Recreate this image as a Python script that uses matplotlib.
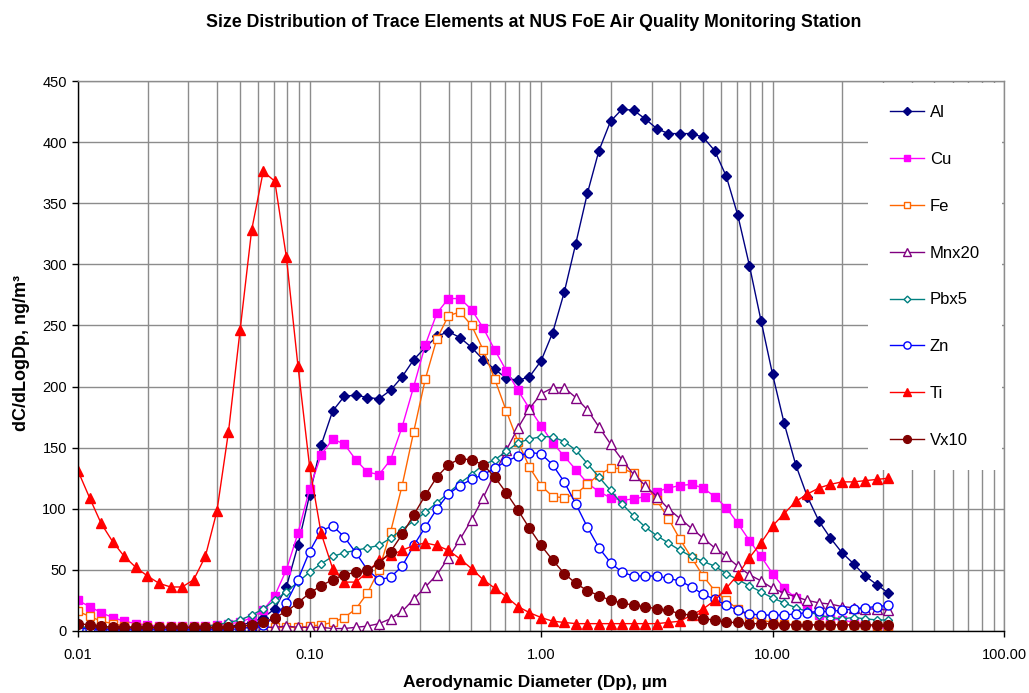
import numpy as np
import matplotlib
matplotlib.use("Agg")
import matplotlib.pyplot as plt

# ---- data ----------------------------------------------------------------
# 71 size bins, 20 per decade from 0.01 to ~31.6 um
dp = np.logspace(-2, 1.5, 71)

al = [3, 3, 3, 3, 3, 3, 3, 3, 3, 3, 3, 3, 3, 4, 5, 7, 11, 18, 36, 70,
      111, 152, 180, 192, 193, 191, 190, 197, 208, 222, 232, 241, 245, 240, 232, 222, 214, 207, 205, 208,
      221, 244, 277, 317, 358, 393, 417, 427, 426, 419, 411, 407, 407, 407, 404, 393, 372, 340, 299, 254,
      210, 170, 136, 110, 90, 76, 64, 55, 45, 38, 31]
cu = [25, 20, 15, 11, 8, 6, 5, 4, 4, 4, 4, 4, 5, 6, 7, 11, 17, 29, 50, 80,
      116, 144, 157, 153, 140, 130, 128, 140, 167, 200, 234, 260, 272, 272, 263, 248, 230, 213, 197, 182,
      168, 154, 143, 132, 121, 114, 109, 107, 108, 110, 114, 117, 119, 120, 117, 110, 101, 88, 74, 61,
      47, 35, 27, 18, 13, 10, 9, 7, 6, 3, 2]
fe = [16, 12, 8, 6, 4, 3, 3, 3, 3, 3, 3, 3, 3, 3, 3, 3, 3, 3, 3, 3,
      4, 5, 7, 11, 18, 31, 50, 81, 119, 163, 206, 239, 258, 261, 250, 230, 206, 180, 155, 134,
      119, 110, 109, 112, 120, 128, 133, 133, 129, 120, 107, 92, 75, 60, 45, 33, 25, 18, 12, 9,
      7, 6, 5, 5, 5, 5, 5, 5, 5, 4, 4]
mn20 = [2, 2, 2, 2, 2, 2, 2, 2, 2, 2, 2, 2, 2, 3, 3, 3, 3, 3, 4, 3,
        3, 3, 2, 2, 3, 4, 6, 10, 16, 26, 36, 46, 60, 75, 91, 109, 129, 148, 166, 182,
        194, 199, 199, 191, 181, 167, 153, 140, 128, 119, 110, 100, 92, 84, 76, 68, 61, 53, 46, 41,
        35, 31, 28, 25, 23, 22, 20, 19, 18, 18, 17]
pb5 = [3, 3, 3, 3, 3, 3, 3, 3, 3, 3, 3, 4, 5, 7, 9, 13, 18, 25, 32, 40,
       48, 55, 61, 64, 66, 68, 70, 76, 83, 90, 97, 105, 113, 121, 128, 136, 140, 147, 154, 157,
       159, 159, 155, 148, 137, 126, 115, 104, 94, 85, 78, 72, 66, 61, 57, 53, 47, 42, 37, 32,
       27, 23, 19, 16, 13, 11, 10, 11, 10, 9, 9]
zn = [2, 2, 1, 1, 1, 1, 1, 1, 1, 1, 1, 1, 1, 1, 2, 3, 5, 11, 23, 42,
      65, 82, 86, 77, 64, 50, 42, 44, 53, 70, 85, 100, 112, 119, 124, 128, 133, 139, 143, 146,
      145, 136, 122, 104, 85, 68, 56, 48, 45, 45, 45, 43, 41, 36, 30, 26, 21, 17, 14, 13,
      13, 13, 14, 15, 16, 16, 17, 18, 19, 20, 21]
ti = [131, 109, 88, 73, 61, 52, 45, 39, 36, 36, 42, 61, 98, 163, 246, 328, 376, 368, 306, 217,
      135, 80, 51, 40, 40, 48, 58, 62, 66, 70, 72, 70, 66, 59, 51, 42, 35, 28, 20, 15,
      11, 8, 7, 6, 6, 6, 6, 6, 6, 6, 6, 7, 8, 13, 18, 25, 35, 46, 60, 72,
      86, 96, 106, 112, 117, 120, 122, 122, 123, 124, 125]
v10 = [6, 5, 4, 3, 3, 3, 3, 3, 3, 3, 3, 3, 3, 3, 4, 5, 7, 11, 16, 23,
       31, 37, 42, 46, 48, 50, 55, 65, 79, 95, 111, 126, 136, 141, 140, 136, 126, 113, 99, 84,
       70, 58, 47, 39, 33, 29, 25, 23, 21, 20, 18, 17, 14, 13, 10, 9, 7, 7, 6, 6,
       6, 5, 5, 5, 5, 5, 5, 5, 5, 5, 5]

labels = ["Al", "Cu", "Fe", "Mnx20", "Pbx5", "Zn", "Ti", "Vx10"]
xticks = [0.01, 0.1, 1, 10, 100]
xticklabels = ["0.01", "0.10", "1.00", "10.00", "100.00"]

# ---- style ---------------------------------------------------------------
plt.rcParams.update({
    "font.family": ["Liberation Sans", "DejaVu Sans"],
    "font.size": 10,
})
GRID = "#8c8c8c"

# (colour, marker, size, filled)
styles = [
    ("#000080", "D", 5.0, True),
    ("#ff00ff", "s", 6.0, True),
    ("#ff6600", "s", 6.0, False),
    ("#800080", "^", 6.5, False),
    ("#008080", "D", 4.3, False),
    ("#0000ff", "o", 6.5, False),
    ("#ff0000", "^", 7.0, True),
    ("#800000", "o", 7.0, True),
]
series = [al, cu, fe, mn20, pb5, zn, ti, v10]

fig = plt.figure(figsize=(10.29, 6.93), dpi=100)
ax = fig.add_axes([0.0758, 0.0895, 0.9000, 0.7936])

for vals, lab, (col, mk, ms, filled) in zip(series, labels, styles):
    ax.plot(dp, vals, color=col, lw=1.0, marker=mk, ms=ms,
            mfc=col if filled else "white", mec=col, mew=1.0, label=lab)

ax.set_xscale("log")
ax.set_xlim(0.01, 100)
ax.set_ylim(0, 450)
ax.set_yticks(np.arange(0, 451, 50))
ax.set_xticks(xticks)
ax.set_xticklabels(xticklabels)
ax.xaxis.set_minor_locator(matplotlib.ticker.LogLocator(base=10, subs=np.arange(2, 10)))
ax.xaxis.set_minor_formatter(matplotlib.ticker.NullFormatter())

ax.grid(True, which="major", color=GRID, lw=1.0)
ax.grid(True, which="minor", axis="x", color=GRID, lw=1.0)
ax.set_axisbelow(True)

ax.tick_params(axis="x", which="major", length=4, width=1, pad=8, labelsize=10.5)
ax.tick_params(axis="x", which="minor", length=0)
ax.tick_params(axis="y", length=4, width=1, pad=4, labelsize=10.5)
for side in ("left", "bottom"):
    ax.spines[side].set_color("black")
    ax.spines[side].set_linewidth(1.0)
for side in ("top", "right"):
    ax.spines[side].set_color(GRID)
    ax.spines[side].set_linewidth(1.0)

leg = ax.legend(loc="upper left", bbox_to_anchor=(0.853, 0.997), borderaxespad=0,
                fontsize=12, labelspacing=1.91, handlelength=2.0, handletextpad=0.35,
                borderpad=1.35, frameon=True, fancybox=False, framealpha=1,
                markerscale=0.8)
leg.get_frame().set_edgecolor("none")
leg.get_frame().set_facecolor("white")

fig.text(0.519, 0.968, "Size Distribution of Trace Elements at NUS FoE Air Quality Monitoring Station",
         ha="center", va="center", fontsize=12.8, fontweight="bold")
fig.text(0.52, 0.015, "Aerodynamic Diameter (Dp), \u00b5m",
         ha="center", va="center", fontsize=12.5, fontweight="bold")
fig.text(0.021, 0.49, "dC/dLogDp, ng/m\u00b3", rotation=90,
         ha="center", va="center", fontsize=13, fontweight="bold")

fig.savefig("out.png", dpi=100, facecolor="white")
